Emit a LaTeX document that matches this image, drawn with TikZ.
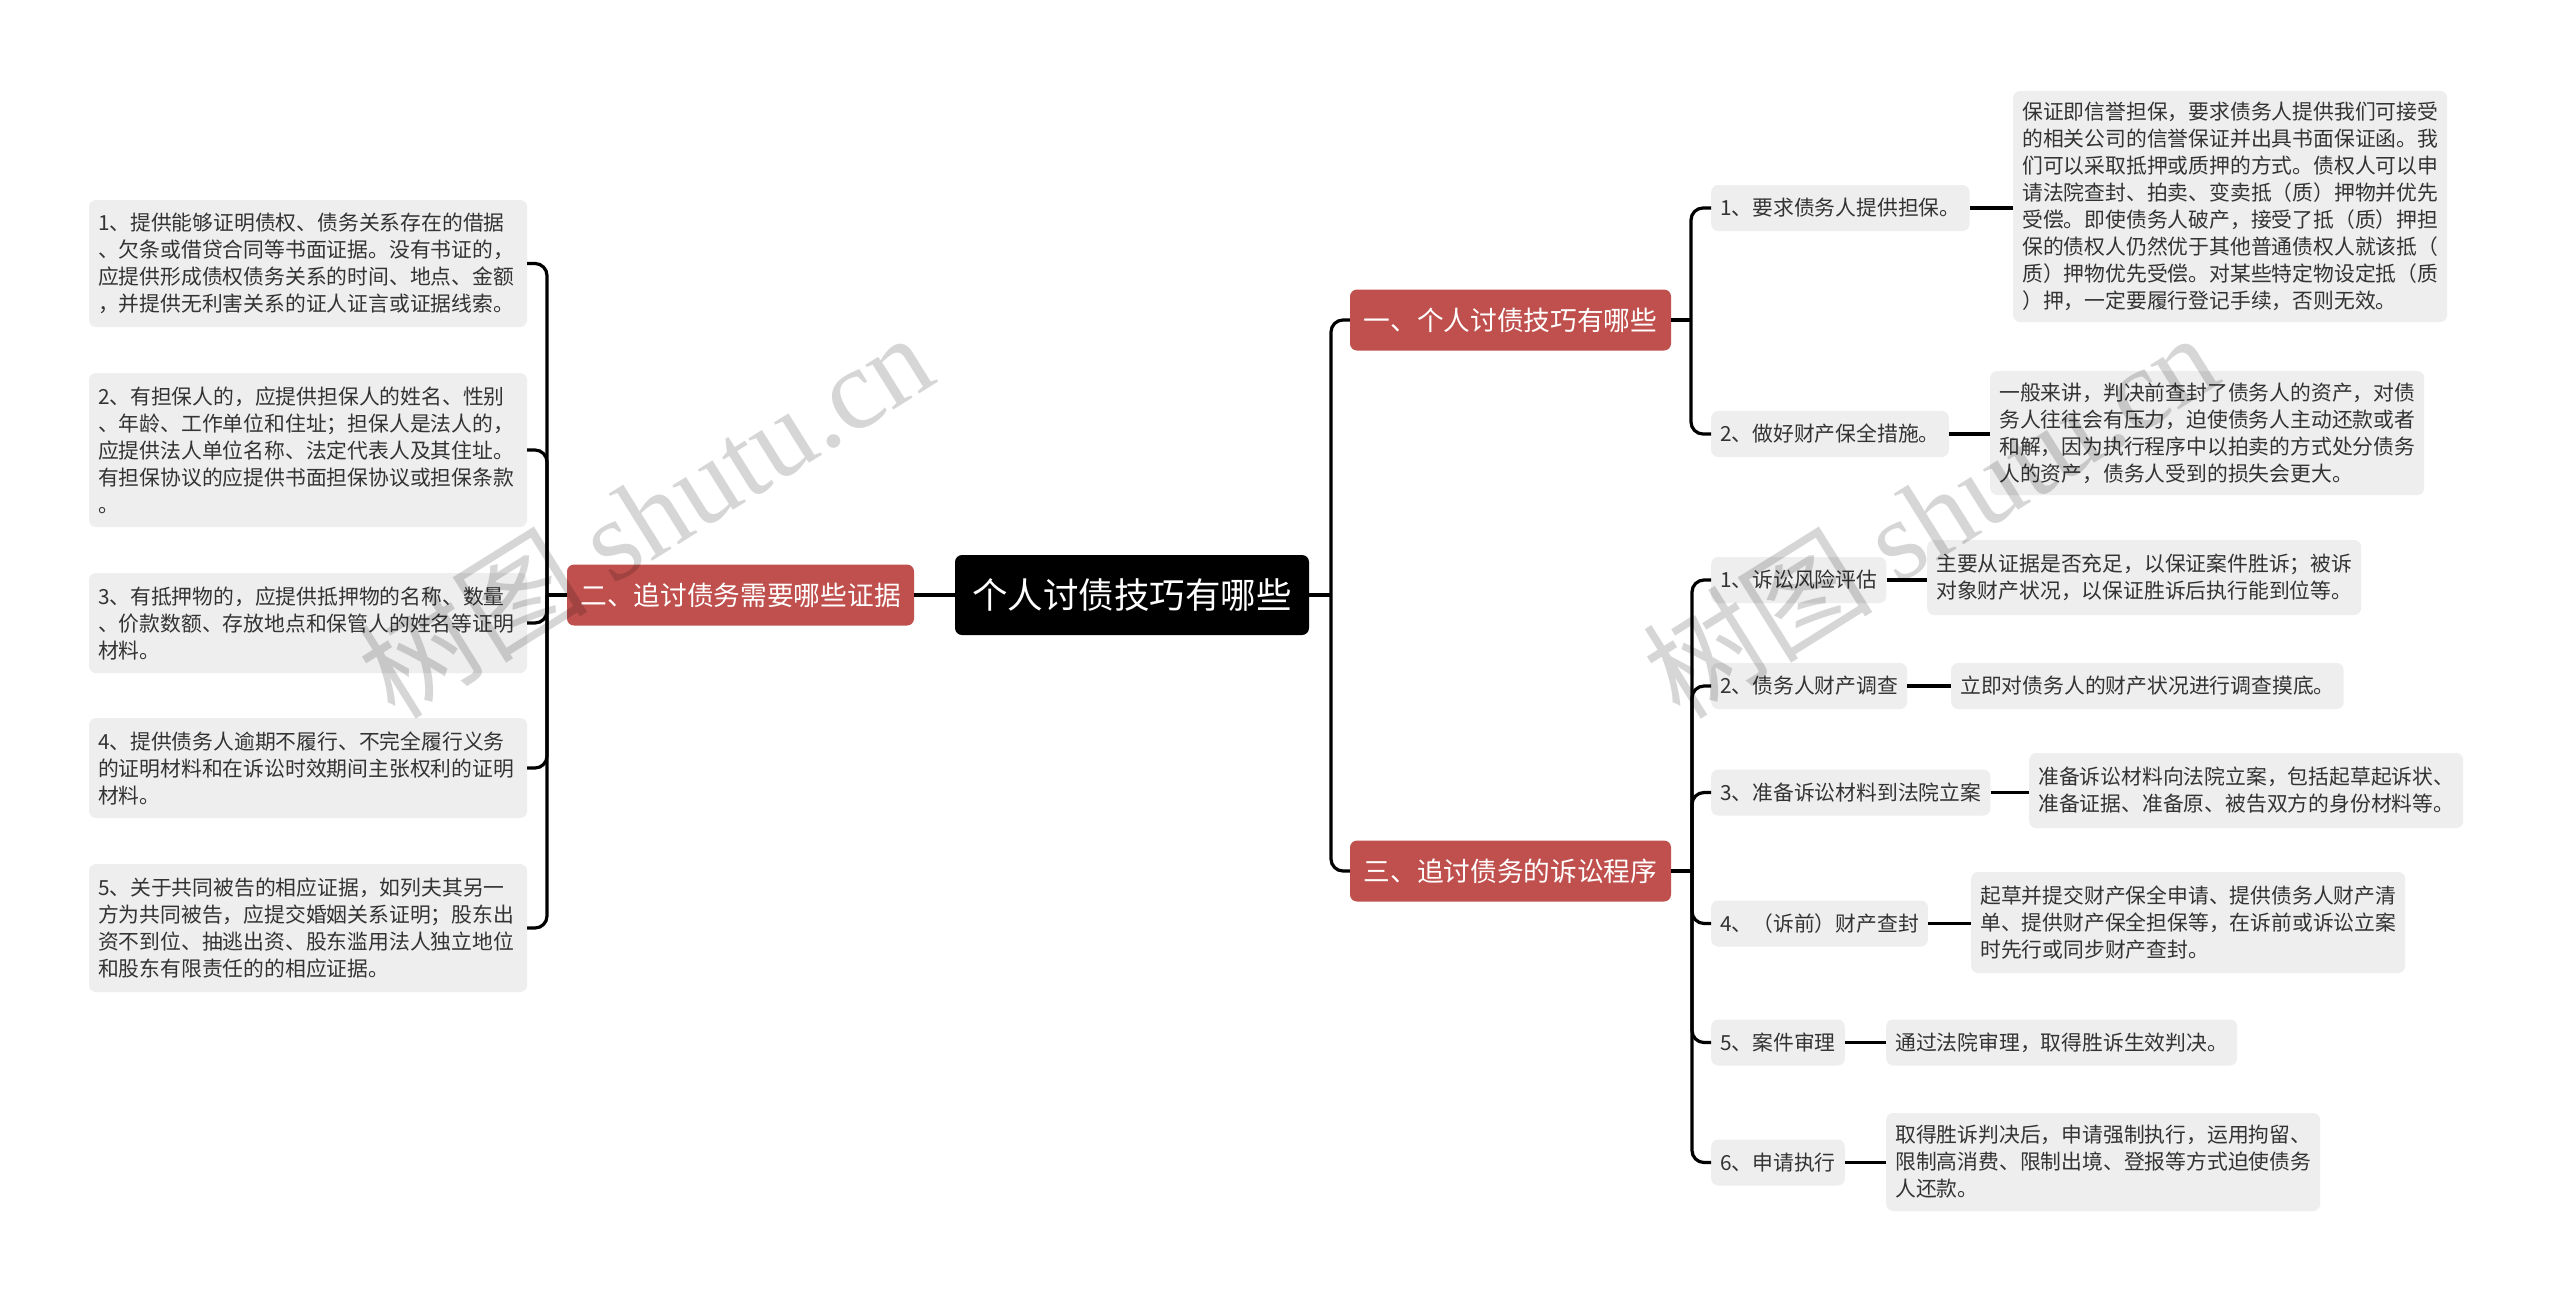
\documentclass[tikz,border=0pt]{standalone}
\usepackage{fontspec}
\setmainfont{Noto Sans CJK SC}
\newfontfamily\wmfont{Liberation Serif}
\definecolor{redbox}{HTML}{C0504D}
\definecolor{lightbox}{HTML}{EEEEEE}
\definecolor{txtgray}{HTML}{333333}
\begin{document}
\begin{tikzpicture}[x=1pt,y=-1pt,
  conn/.style={line width=3.2pt, black, rounded corners=12pt},
  rootbox/.style={fill=black, text=white, rounded corners=7pt, minimum width=354pt, minimum height=80pt, inner sep=0pt, font=\fontsize{35.5}{40}\selectfont},
  branchbox/.style={fill=redbox, text=white, rounded corners=7pt, minimum height=61pt, inner xsep=12pt, inner ysep=0pt, font=\fontsize{26.7}{30}\selectfont},
  leafbox/.style={fill=lightbox, text=txtgray, rounded corners=7pt, align=left, inner xsep=9pt, inner ysep=0pt, font=\fontsize{20.8}{27}\selectfont},
  leftleaf/.style={leafbox, text width=420pt},
  rightleaf/.style={leafbox, anchor=west},
  wmark/.style={text=black, text opacity=0.16, font=\fontsize{115}{120}\selectfont, inner sep=0pt}
]
\fill[white] (0,0) rectangle (2560,1302);
\useasboundingbox (0,0) rectangle (2560,1302);

% root and branches
\node[rootbox] (root) at (1132,595) {个人讨债技巧有哪些};
\node[branchbox, minimum width=347pt] (b2) at (740.5,595) {二、追讨债务需要哪些证据};
\node[branchbox, minimum width=321pt] (b1) at (1510.5,320) {一、个人讨债技巧有哪些};
\node[branchbox, minimum width=321pt] (b3) at (1510.5,871) {三、追讨债务的诉讼程序};

% left leaves
\node[leftleaf, minimum height=127pt] (L1) at (308,263.5) {1、提供能够证明债权、债务关系存在的借据\\、欠条或借贷合同等书面证据。没有书证的，\\应提供形成债权债务关系的时间、地点、金额\\，并提供无利害关系的证人证言或证据线索。};
\node[leftleaf, minimum height=154pt] (L2) at (308,450) {2、有担保人的，应提供担保人的姓名、性别\\、年龄、工作单位和住址；担保人是法人的，\\应提供法人单位名称、法定代表人及其住址。\\有担保协议的应提供书面担保协议或担保条款\\。};
\node[leftleaf, minimum height=100pt] (L3) at (308,623) {3、有抵押物的，应提供抵押物的名称、数量\\、价款数额、存放地点和保管人的姓名等证明\\材料。};
\node[leftleaf, minimum height=100pt] (L4) at (308,768) {4、提供债务人逾期不履行、不完全履行义务\\的证明材料和在诉讼时效期间主张权利的证明\\材料。};
\node[leftleaf, minimum height=128pt] (L5) at (308,928) {5、关于共同被告的相应证据，如列夫其另一\\方为共同被告，应提交婚姻关系证明；股东出\\资不到位、抽逃出资、股东滥用法人独立地位\\和股东有限责任的的相应证据。};

% branch one
\node[rightleaf, minimum height=46pt] (I1) at (1711,208) {1、要求债务人提供担保。};
\node[rightleaf, minimum height=46pt] (I2) at (1711,434) {2、做好财产保全措施。};
\node[rightleaf, minimum height=231pt] (D1) at (2013,206.5) {保证即信誉担保，要求债务人提供我们可接受\\的相关公司的信誉保证并出具书面保证函。我\\们可以采取抵押或质押的方式。债权人可以申\\请法院查封、拍卖、变卖抵（质）押物并优先\\受偿。即使债务人破产，接受了抵（质）押担\\保的债权人仍然优于其他普通债权人就该抵（\\质）押物优先受偿。对某些特定物设定抵（质\\）押，一定要履行登记手续，否则无效。};
\node[rightleaf, minimum height=124pt] (D2) at (1990,433) {一般来讲，判决前查封了债务人的资产，对债\\务人往往会有压力，迫使债务人主动还款或者\\和解，因为执行程序中以拍卖的方式处分债务\\人的资产，债务人受到的损失会更大。};

% branch three
\node[rightleaf, minimum height=46pt] (J1) at (1711,580) {1、诉讼风险评估};
\node[rightleaf, minimum height=46pt] (J2) at (1711,686) {2、债务人财产调查};
\node[rightleaf, minimum height=46pt] (J3) at (1711,792.5) {3、准备诉讼材料到法院立案};
\node[rightleaf, minimum height=46pt] (J4) at (1711,923.5) {4、（诉前）财产查封};
\node[rightleaf, minimum height=46pt] (J5) at (1711,1042.5) {5、案件审理};
\node[rightleaf, minimum height=46pt] (J6) at (1711,1162.5) {6、申请执行};
\node[rightleaf, minimum height=75pt] (E1) at (1927,577.5) {主要从证据是否充足，以保证案件胜诉；被诉\\对象财产状况，以保证胜诉后执行能到位等。};
\node[rightleaf, minimum height=46pt] (E2) at (1951,686) {立即对债务人的财产状况进行调查摸底。};
\node[rightleaf, minimum height=75pt] (E3) at (2029,790.5) {准备诉讼材料向法院立案，包括起草起诉状、\\准备证据、准备原、被告双方的身份材料等。};
\node[rightleaf, minimum height=101pt] (E4) at (1971,922.5) {起草并提交财产保全申请、提供债务人财产清\\单、提供财产保全担保等，在诉前或诉讼立案\\时先行或同步财产查封。};
\node[rightleaf, minimum height=46pt] (E5) at (1886,1042.5) {通过法院审理，取得胜诉生效判决。};
\node[rightleaf, minimum height=98pt] (E6) at (1886,1162) {取得胜诉判决后，申请强制执行，运用拘留、\\限制高消费、限制出境、登报等方式迫使债务\\人还款。};

% trunks
\coordinate (tL) at (547,595);
\coordinate (tR) at (1331,595);
\coordinate (t1) at (1691,320);
\coordinate (t3) at (1692,871);

% connectors left
\draw[conn] (b2.west) -- (tL);
\foreach \n in {L1,L2,L3,L4,L5} \draw[conn] (tL) |- (\n.east);
\draw[conn] (b2.east) -- (root.west);

% connectors right
\draw[conn] (root.east) -- (tR);
\draw[conn] (tR) |- (b1.west);
\draw[conn] (tR) |- (b3.west);
\draw[conn] (b1.east) -- (t1);
\draw[conn] (t1) |- (I1.west);
\draw[conn] (t1) |- (I2.west);
\draw[conn] (b3.east) -- (t3);
\foreach \n in {J1,J2,J3,J4,J5,J6} \draw[conn] (t3) |- (\n.west);
\draw[conn] (I1.east) -- (I1.east -| D1.west);
\draw[conn] (I2.east) -- (I2.east -| D2.west);
\draw[conn] (J1.east) -- (J1.east -| E1.west);
\draw[conn] (J2.east) -- (J2.east -| E2.west);
\draw[conn] (J3.east) -- (J3.east -| E3.west);
\draw[conn] (J4.east) -- (J4.east -| E4.west);
\draw[conn] (J5.east) -- (J5.east -| E5.west);
\draw[conn] (J6.east) -- (J6.east -| E6.west);

% watermarks
\node[wmark, rotate=32] (wm1) at (645,514) {树图 {\wmfont shutu.cn}};
\node[wmark, rotate=32] (wm2) at (1930,514) {树图 {\wmfont shutu.cn}};
\end{tikzpicture}
\end{document}
